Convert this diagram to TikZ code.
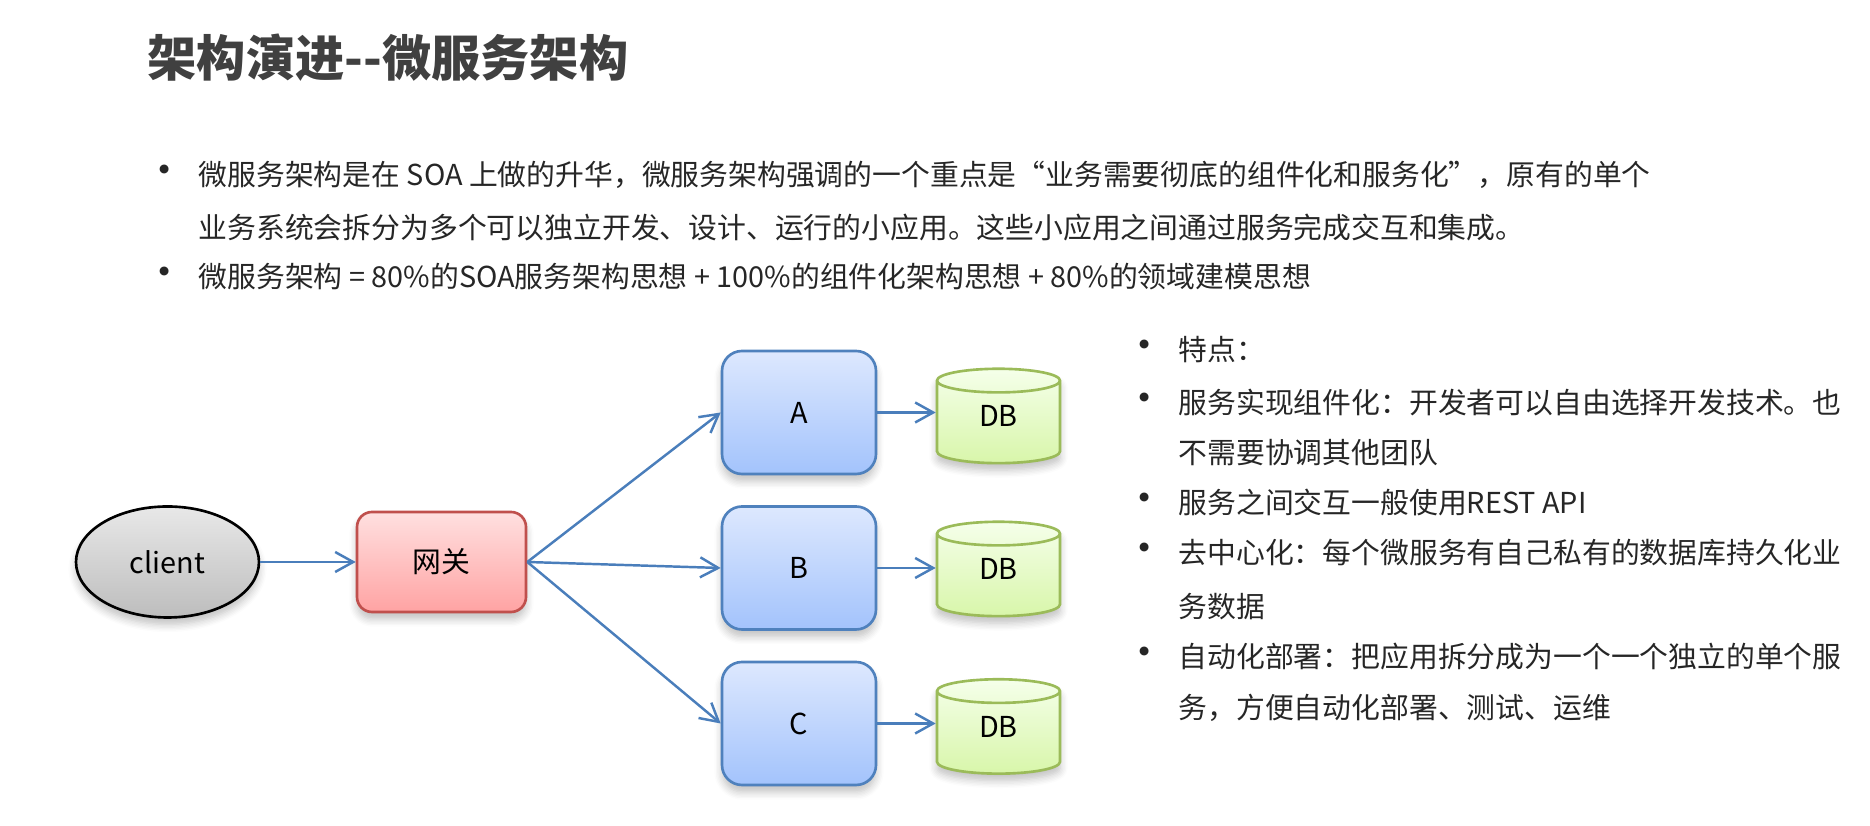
\documentclass[tikz,border=0pt]{standalone}
\usepackage{fontspec}
\setmainfont{Noto Sans CJK SC}
\usetikzlibrary{arrows.meta,shapes.geometric,shadows.blur}

\definecolor{linkblue}{HTML}{4A7EBB}
\definecolor{gwred}{HTML}{C0504D}
\definecolor{gwtop}{HTML}{FFE0E0}
\definecolor{gwbot}{HTML}{FFA3A3}
\definecolor{svcblue}{HTML}{4F81BD}
\definecolor{svctop}{HTML}{DDE8FE}
\definecolor{svcbot}{HTML}{A3C3FC}
\definecolor{dbgreen}{HTML}{9BBB59}
\definecolor{dbtop}{HTML}{F5FFEA}
\definecolor{dbbot}{HTML}{D8F6AA}
\definecolor{cltop}{HTML}{E8E8E8}
\definecolor{clbot}{HTML}{BDBDBD}
\definecolor{titlegray}{HTML}{404040}

\begin{document}
\begin{tikzpicture}[every node/.style={font=\fontsize{8.2}{10}\selectfont, text=black!85},
	txtline/.style={anchor=west, inner sep=0pt},
	bullet/.style={inner sep=0pt, font=\fontsize{12}{12}\selectfont},
	link/.style={linkblue, line width=0.7pt, -{Straight Barb[length=1.8mm, width=2mm]}},
	soft/.style={blur shadow={shadow xshift=0pt, shadow yshift=-0.7mm, shadow opacity=25, shadow blur steps=6}},
	svc/.style={draw=svcblue, line width=0.75pt, rounded corners=2mm, top color=svctop, bottom color=svcbot, minimum width=1.54cm, minimum height=1.23cm, soft, text=black},
	db/.style={cylinder, shape border rotate=90, aspect=0.38, draw=dbgreen, line width=0.75pt, top color=dbtop, bottom color=dbbot, minimum width=1.23cm, minimum height=0.92cm, text depth=2mm, soft, text=black}]
	\useasboundingbox (0,0) rectangle (18.70,8.26);
	\node[txtline, font=\fontsize{14}{16}\selectfont\bfseries, text=titlegray] (title) at (1.47,7.68) {架构演进-{}-微服务架构};

	\node[bullet] (b1) at (1.65,6.51) {•};
	\node[txtline] (p1) at (1.98,6.51) {微服务架构是在 SOA 上做的升华，微服务架构强调的一个重点是“业务需要彻底的组件化和服务化”，原有的单个};
	\node[txtline] (p1b) at (1.98,5.98) {业务系统会拆分为多个可以独立开发、设计、运行的小应用。这些小应用之间通过服务完成交互和集成。};
	\node[bullet] (b2) at (1.65,5.49) {•};
	\node[txtline] (p2) at (1.98,5.49) {微服务架构 = 80\%的SOA服务架构思想 + 100\%的组件化架构思想 + 80\%的领域建模思想};

	\node[bullet] (r1) at (11.45,4.76) {•};
	\node[txtline] (t1) at (11.78,4.76) {特点：};
	\node[bullet] (r2) at (11.45,4.23) {•};
	\node[txtline] (t2) at (11.78,4.23) {服务实现组件化：开发者可以自由选择开发技术。也};
	\node[txtline] (t2b) at (11.78,3.73) {不需要协调其他团队};
	\node[bullet] (r3) at (11.45,3.23) {•};
	\node[txtline] (t3) at (11.78,3.23) {服务之间交互一般使用REST API};
	\node[bullet] (r4) at (11.45,2.73) {•};
	\node[txtline] (t4) at (11.78,2.73) {去中心化：每个微服务有自己私有的数据库持久化业};
	\node[txtline] (t4b) at (11.78,2.19) {务数据};
	\node[bullet] (r5) at (11.45,1.69) {•};
	\node[txtline] (t5) at (11.78,1.69) {自动化部署：把应用拆分成为一个一个独立的单个服};
	\node[txtline] (t5b) at (11.78,1.18) {务，方便自动化部署、测试、运维};

	\node[ellipse, draw=black, line width=0.75pt, top color=cltop, bottom color=clbot, minimum width=1.83cm, minimum height=1.11cm, soft, text=black] (client) at (1.675,2.64) {client};
	\node[draw=gwred, line width=0.75pt, rounded corners=1.5mm, top color=gwtop, bottom color=gwbot, minimum width=1.69cm, minimum height=1cm, soft, text=black] (gw) at (4.415,2.64) {网关};
	\node[svc] (A) at (7.99,4.135) {A};
	\node[svc] (B) at (7.99,2.58) {B};
	\node[svc] (C) at (7.99,1.025) {C};
	\node[db] (dbA) at (9.985,4.00) {DB};
	\node[db] (dbB) at (9.985,2.47) {DB};
	\node[db] (dbC) at (9.985,0.895) {DB};
	\draw[link] (client) -- (gw);
	\foreach \s in {A,B,C} {
		\draw[link] (gw.east) -- (\s.west);
		\draw[link] (\s.east) -- (db\s.west |- \s.east);
	}
\end{tikzpicture}
\end{document}
